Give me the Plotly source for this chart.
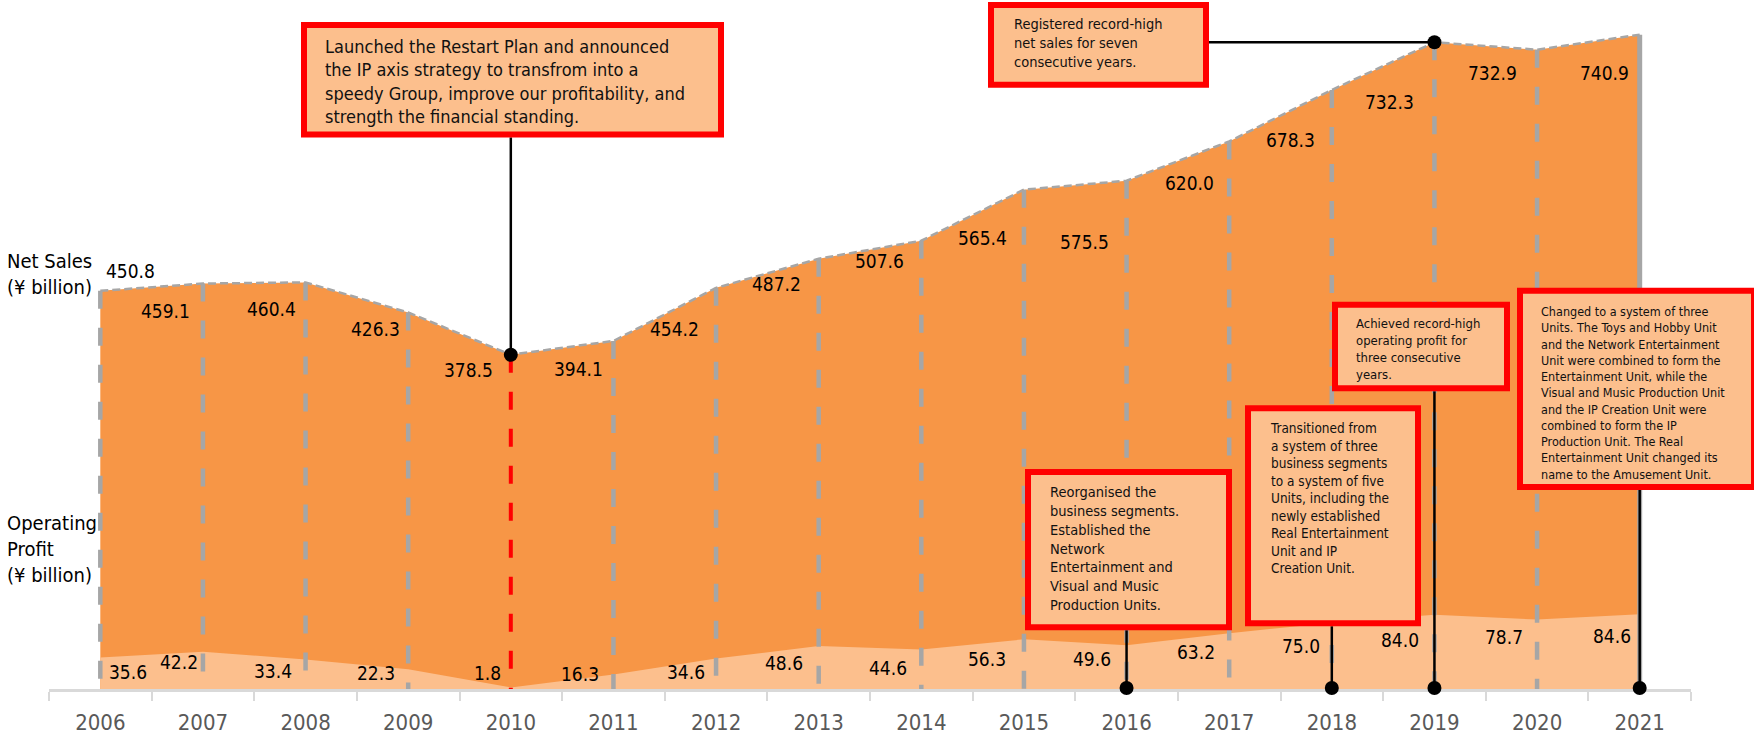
import plotly.graph_objects as go

# ---------------- data ----------------
years = list(range(2006, 2022))
net_sales = [450.8, 459.1, 460.4, 426.3, 378.5, 394.1, 454.2, 487.2, 507.6,
             565.4, 575.5, 620.0, 678.3, 732.3, 723.9, 740.9]
net_sales_text = ["450.8", "459.1", "460.4", "426.3", "378.5", "394.1", "454.2", "487.2",
                  "507.6", "565.4", "575.5", "620.0", "678.3", "732.3", "732.9", "740.9"]
operating_profit = [35.6, 42.2, 33.4, 22.3, 1.8, 16.3, 34.6, 48.6, 44.6,
                    56.3, 49.6, 63.2, 75.0, 84.0, 78.7, 84.6]
operating_profit_text = ["35.6", "42.2", "33.4", "22.3", "1.8", "16.3", "34.6", "48.6",
                         "44.6", "56.3", "49.6", "63.2", "75.0", "84.0", "78.7", "84.6"]

# label offsets in pixels (styling)
ns_dx = [30, -37, -34, -33, -42, -35, -42, -42, -42, -41, -42, -40, -41, -45, -45, -35]
ns_dy = [20, -27, -27, -16, -15, -28, -41, -25, -20, -48, -61, -42, -50, -60, -23, -38]
op_dx = [28, -24, -33, -32, -23, -33, -30, -35, -33, -37, -35, -33, -31, -34, -33, -28]
op_dy = [-14, -10, -11, -4, 14, 1, -14, -17, -18, -20, -14, -19, -23, -25, -17, -22]

callouts = [
    dict(year=2010, target="ns", fs=18, box=(301, 22, 724, 138), tpos=(323, 47),
         text="Launched the Restart Plan and announced<br>the IP axis strategy to transfrom into a<br>"
              "speedy Group, improve our profitability, and<br>strength the financial standing."),
    dict(year=2019, target="ns_h", fs=14.5, box=(988, 2, 1209, 88), tpos=(1012, 24),
         text="Registered record-high<br>net sales for seven<br>consecutive years."),
    dict(year=2016, target="base", fs=14.5, box=(1025, 471, 1232, 633), tpos=(1048, 495),
         text="Reorganised the<br>business segments.<br>Established the<br>Network<br>"
              "Entertainment and<br>Visual and Music<br>Production Units."),
    dict(year=2018, target="base", fs=13.5, box=(1245, 407, 1421, 629), tpos=(1268, 430),
         text="Transitioned from<br>a system of three<br>business segments<br>to a system of five<br>"
              "Units, including the<br>newly established<br>Real Entertainment<br>Unit and IP<br>Creation Unit."),
    dict(year=2019, target="base", fs=13, box=(1332, 303, 1510, 393), tpos=(1354, 325),
         text="Achieved record-high<br>operating profit for<br>three consecutive<br>years."),
    dict(year=2021, target="base", fs=12.5, box=(1517, 289, 1757, 492), tpos=(1539, 312),
         text="Changed to a system of three<br>Units. The Toys and Hobby Unit<br>and the Network Entertainment<br>"
              "Unit were combined to form the<br>Entertainment Unit, while the<br>Visual and Music Production Unit<br>"
              "and the IP Creation Unit were<br>combined to form the IP<br>Production Unit. The Real<br>"
              "Entertainment Unit changed its<br>name to the Amusement Unit."),
]

# ---------------- layout geometry ----------------
FONT = "DejaVu Sans Condensed, DejaVu Sans, sans-serif"
W, H = 1754, 735
ML, MR, MT, MB = 49, 63, 0, 43
PW, PH = W - ML - MR, H - MT - MB
X_RANGE = [2005.5, 2021.5]
Y_MAX = PH / 0.887

DARK = "#F79646"
LIGHT = "#FCBF8D"
GRAY = "#A6A6A6"
RED = "#FF0000"


def px_x(px):
    return X_RANGE[0] + (px - ML) / PW * (X_RANGE[1] - X_RANGE[0])


def px_y(py):
    return (MT + PH - py) / PH * Y_MAX


def pap_x(px):
    return (px - ML) / PW


def pap_y(py):
    return (MT + PH - py) / PH


fig = go.Figure()
fig.add_trace(go.Scatter(x=years, y=net_sales, mode="lines", fill="tozeroy",
                         fillcolor=DARK, line=dict(width=0), hoverinfo="skip"))
fig.add_trace(go.Scatter(x=years, y=operating_profit, mode="lines", fill="tozeroy",
                         fillcolor=LIGHT, line=dict(width=0), hoverinfo="skip"))
fig.add_trace(go.Scatter(x=years, y=net_sales, mode="lines",
                         line=dict(color=GRAY, width=2.5, dash="8px,4px"), hoverinfo="skip"))

shapes = []
# vertical year lines
for yr, v in zip(years, net_sales):
    if yr == 2021:
        shapes.append(dict(type="line", xref="x", yref="y", x0=yr, x1=yr, y0=v, y1=0,
                           line=dict(color=GRAY, width=5)))
    elif yr == 2010:
        shapes.append(dict(type="line", xref="x", yref="y", x0=yr, x1=yr, y0=v, y1=0,
                           line=dict(color=RED, width=4, dash="18px,19px")))
    else:
        shapes.append(dict(type="line", xref="x", yref="y", x0=yr, x1=yr, y0=v, y1=0,
                           line=dict(color=GRAY, width=4.5, dash="18px,19px")))

annotations = []
BW = 6
for c in callouts:
    i = years.index(c["year"])
    x0, y0, x1, y1 = c["box"]
    if c["target"] == "ns":
        shapes.append(dict(type="line", xref="x", yref="y", x0=c["year"], x1=c["year"],
                           y0=px_y(y1), y1=net_sales[i], line=dict(color="black", width=2.5)))
        shapes.append(dict(type="circle", xref="x", yref="y", xsizemode="pixel", ysizemode="pixel",
                           xanchor=c["year"], yanchor=net_sales[i], x0=-7, x1=7, y0=-7, y1=7,
                           fillcolor="black", line=dict(width=0)))
    elif c["target"] == "ns_h":
        shapes.append(dict(type="line", xref="x", yref="y", x0=px_x(x1), x1=c["year"],
                           y0=net_sales[i], y1=net_sales[i], line=dict(color="black", width=2.5)))
        shapes.append(dict(type="circle", xref="x", yref="y", xsizemode="pixel", ysizemode="pixel",
                           xanchor=c["year"], yanchor=net_sales[i], x0=-7, x1=7, y0=-7, y1=7,
                           fillcolor="black", line=dict(width=0)))
    else:
        shapes.append(dict(type="line", xref="x", yref="y", x0=c["year"], x1=c["year"],
                           y0=px_y(y1), y1=0, line=dict(color="black", width=2.5)))
        shapes.append(dict(type="circle", xref="x", yref="paper", xsizemode="pixel", ysizemode="pixel",
                           xanchor=c["year"], yanchor=0, x0=-7, x1=7, y0=-6, y1=8,
                           fillcolor="black", line=dict(width=0)))

for c in callouts:
    x0, y0, x1, y1 = c["box"]
    shapes.append(dict(type="rect", xref="paper", yref="paper",
                       x0=pap_x(x0 + BW / 2), x1=pap_x(x1 - BW / 2),
                       y0=pap_y(y1 - BW / 2), y1=pap_y(y0 + BW / 2),
                       fillcolor=LIGHT, line=dict(color=RED, width=BW)))
    tx, ty = c["tpos"]
    annotations.append(dict(xref="paper", yref="paper", x=pap_x(tx), y=pap_y(ty - 0.65 * c["fs"] - 1),
                            xanchor="left", yanchor="top", align="left", showarrow=False,
                            text=c["text"], font=dict(family=FONT, size=c["fs"], color="#111111")))

# data labels
for yr, v, t, dx, dy in zip(years, net_sales, net_sales_text, ns_dx, ns_dy):
    annotations.append(dict(xref="x", yref="y", x=yr, y=v, xshift=dx, yshift=dy,
                            xanchor="center", yanchor="middle", showarrow=False, text=t,
                            font=dict(family=FONT, size=19, color="black")))
for yr, v, t, dx, dy in zip(years, operating_profit, operating_profit_text, op_dx, op_dy):
    annotations.append(dict(xref="x", yref="y", x=yr, y=v, xshift=dx, yshift=dy,
                            xanchor="center", yanchor="middle", showarrow=False, text=t,
                            font=dict(family=FONT, size=19, color="black")))

# left axis-like labels
annotations.append(dict(xref="paper", yref="paper", x=pap_x(5), y=pap_y(262 - 14), xanchor="left",
                        yanchor="top", align="left", showarrow=False, text="Net Sales<br>(¥ billion)",
                        font=dict(family=FONT, size=20, color="black")))
annotations.append(dict(xref="paper", yref="paper", x=pap_x(5), y=pap_y(525 - 14), xanchor="left",
                        yanchor="top", align="left", showarrow=False,
                        text="Operating<br>Profit<br>(¥ billion)",
                        font=dict(family=FONT, size=20, color="black")))

fig.update_layout(
    width=W, height=H,
    margin=dict(l=ML, r=MR, t=MT, b=MB, pad=0),
    paper_bgcolor="white", plot_bgcolor="white",
    showlegend=False,
    shapes=shapes,
    annotations=annotations,
    xaxis=dict(range=X_RANGE, tickmode="array", tickvals=years, ticktext=[str(y) for y in years],
               ticks="", showline=True, linecolor="#D9D9D9", linewidth=3, showgrid=False,
               zeroline=False, ticklabelstandoff=12,
               tickfont=dict(family=FONT, size=22, color="#595959"),
               minor=dict(tickmode="array", tickvals=[X_RANGE[0] + k for k in range(17)],
                          ticks="outside", ticklen=9, tickwidth=2, tickcolor="#D9D9D9",
                          showgrid=False)),
    yaxis=dict(range=[0, Y_MAX], visible=False, showgrid=False, zeroline=False),
)

fig.write_html("out.html")
